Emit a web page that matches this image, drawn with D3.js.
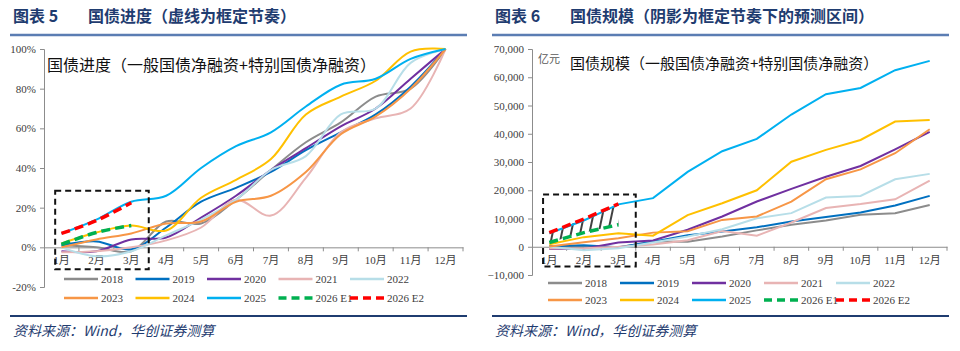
<!DOCTYPE html>
<html>
<head>
<meta charset="utf-8">
<script src="https://cdn.jsdelivr.net/npm/d3@7"></script>
<style>
body { margin: 0; background: #fff; }
svg text { font-family: "Liberation Serif", "Noto Sans CJK SC", serif; fill: #333; }
</style>
</head>
<body>
<script>
// categories
var months = ['1月','2月','3月','4月','5月','6月','7月','8月','9月','10月','11月','12月'];
var seriesNames = ['2018','2019','2020','2021','2022','2023','2024','2025','2026 E1','2026 E2'];
var seriesColors = ['#8c8c8c','#0070c0','#7030a0','#e8b4b4','#b7dee8','#f79646','#ffc000','#00b0f0','#00b050','#ff0000'];

// left: progress, %
var prog2018 = [1, 0, -2, 13, 12, 24, 39, 53, 63, 76, 80, 100];
var prog2019 = [1, 3, -1, 10, 23, 30, 38, 49, 58, 67, 81, 100];
var prog2020 = [-2, -2, 4, 5, 15, 26, 39, 50, 61, 70, 85, 100];
var prog2021 = [-2.5, -2, 0, 3.5, 10, 24, 16, 35, 58, 65, 70, 100];
var prog2022 = [0, -4.5, -2, 6, 14, 24, 39, 46, 67, 70, 93, 100];
var prog2023 = [0, 4, 7, 12, 13, 23, 26, 38, 57, 66, 80, 100];
var prog2024 = [2, 7.5, 11, 8.5, 25, 34, 44.5, 67, 76, 84, 98.7, 100];
var prog2025 = [7, 14, 23, 26, 40, 51, 58, 71, 82, 85, 95, 100];
var prog2026E1 = [1.5, 7.5, 11];
var prog2026E2 = [7, 13.5, 22.5];

// right: size, 亿元
var size2018 = [150, 0, -300, 1900, 1800, 3600, 5800, 7800, 9300, 11300, 11900, 14800];
var size2019 = [180, 540, -180, 1800, 4100, 5400, 6900, 8900, 10500, 12100, 14600, 18000];
var size2020 = [-800, -700, 1500, 2200, 6000, 10700, 16000, 20500, 24800, 28600, 34500, 40700];
var size2021 = [-600, -500, 0, 800, 2300, 5600, 3900, 8600, 13700, 15100, 16800, 23400];
var size2022 = [0, -1200, -500, 1500, 3600, 6200, 10100, 11900, 17400, 18000, 23900, 25800];
var size2023 = [100, 1600, 3000, 5000, 5500, 9500, 10700, 16000, 23900, 27400, 33100, 41600];
var size2024 = [900, 3400, 4800, 3900, 11200, 15400, 20000, 30100, 34300, 37800, 44300, 44900];
var size2025 = [4800, 9300, 15000, 17200, 26500, 33800, 38200, 46800, 54000, 56200, 62500, 65800];
var size2026E1 = [1500, 5000, 7800];
var size2026E2 = [5000, 9800, 15200];

var progTicks = [-20, 0, 20, 40, 60, 80, 100];
var sizeTicks = [-10000, 0, 10000, 20000, 30000, 40000, 50000, 60000, 70000];

var svg = d3.select('body').append('svg')
  .attr('width', 960)
  .attr('height', 351);

var defs = svg.append('defs');
defs.append('pattern')
  .attr('id', 'hatch')
  .attr('patternUnits', 'userSpaceOnUse')
  .attr('width', 9).attr('height', 9)
  .attr('patternTransform', 'rotate(12)')
  .append('line')
  .attr('x1', 4).attr('x2', 4).attr('y1', 0).attr('y2', 9)
  .attr('stroke', '#111').attr('stroke-width', 1.6);

function drawPanel(o) {
  var g = svg.append('g');

  // header
  var t = g.append('text')
    .attr('x', o.left).attr('y', 22)
    .style('font-family', '"Noto Sans CJK SC"')
    .style('font-weight', 'bold')
    .style('font-size', '16px')
    .style('fill', '#1f3c70');
  t.append('tspan').text(o.label);
  t.append('tspan').attr('x', o.left + 75).text(o.title);
  g.append('line')
    .attr('x1', o.left - 3).attr('x2', o.right)
    .attr('y1', 35).attr('y2', 35)
    .attr('stroke', '#5b7db3').attr('stroke-width', 2.5);

  var x = d3.scaleBand().domain(months).range([o.x0, o.x1]);
  var y = d3.scaleLinear().domain(o.domain).range([o.yBottom, o.yTop]);

  // y axis
  var yAxis = g.append('g')
    .attr('transform', 'translate(' + o.x0 + ',0)')
    .call(d3.axisLeft(y).tickValues(o.ticks).tickSize(4).tickPadding(4).tickFormat(o.fmt));
  yAxis.select('.domain').attr('stroke', '#8c8c8c');
  yAxis.selectAll('.tick line').attr('stroke', '#8c8c8c');
  yAxis.selectAll('text').style('font-size', '11px').style('font-family', '"Liberation Serif"').style('fill', '#404040');

  // x axis at zero
  var xAxis = g.append('g')
    .attr('transform', 'translate(0,' + y(0) + ')')
    .call(d3.axisBottom(x).tickSize(0).tickPadding(9));
  xAxis.select('.domain').attr('stroke', '#8c8c8c');
  xAxis.selectAll('text').style('font-size', '11px').style('fill', '#404040');
  xAxis.selectAll('.bound')
    .data(months)
    .enter().append('line')
    .attr('x1', function(d) { return x(d) + x.bandwidth(); })
    .attr('x2', function(d) { return x(d) + x.bandwidth(); })
    .attr('y1', 0).attr('y2', 4)
    .attr('stroke', '#8c8c8c');

  var cx = function(d, i) { return x(months[i]) + x.bandwidth() / 2; };
  var line = d3.line().x(cx).y(function(d) { return y(d); }).curve(o.curve);

  // shaded band between forecasts
  if (o.hatch) {
    g.append('path')
      .datum(o.series[8])
      .attr('fill', 'url(#hatch)')
      .attr('d', d3.area().x(cx)
        .y0(function(d) { return y(d); })
        .y1(function(d, i) { return y(o.series[9][i]); }));
  }

  o.series.forEach(function(s, k) {
    var dashed = k >= 8;
    g.append('path')
      .datum(s)
      .attr('fill', 'none')
      .attr('stroke', seriesColors[k])
      .attr('stroke-width', dashed ? 3.5 : 2)
      .attr('stroke-dasharray', dashed ? '9,5' : null)
      .attr('d', line);
  });

  // framed window
  g.append('rect')
    .attr('x', x(o.box[0]) + x.bandwidth() * 0.32)
    .attr('y', y(o.boxRange[1]))
    .attr('width', x(o.box[1]) + x.bandwidth() - x(o.box[0]) - x.bandwidth() * 0.32)
    .attr('height', y(o.boxRange[0]) - y(o.boxRange[1]))
    .attr('fill', 'none')
    .attr('stroke', '#111')
    .attr('stroke-width', 2)
    .attr('stroke-dasharray', '6,4');

  // inner title
  g.append('text')
    .attr('x', o.innerX).attr('y', o.innerY)
    .style('font-family', '"Noto Sans CJK SC"')
    .style('font-size', o.innerSize + 'px')
    .style('font-weight', 400)
    .style('fill', '#111')
    .text(o.inner);

  if (o.unit) {
    g.append('text')
      .attr('x', o.x0 + 6).attr('y', 63)
      .style('font-family', '"Noto Sans CJK SC"')
      .style('font-size', '11px')
      .style('fill', '#595959')
      .text(o.unit);
  }

  // legend
  var leg = g.selectAll('.leg')
    .data(seriesNames)
    .enter().append('g')
    .attr('transform', function(d, i) {
      return 'translate(' + (o.legX + (i % 5) * o.legStep) + ',' + o.legY[Math.floor(i / 5)] + ')';
    });
  leg.append('line')
    .attr('x1', 0).attr('x2', 34)
    .attr('stroke', function(d, i) { return seriesColors[i]; })
    .attr('stroke-width', function(d, i) { return i >= 8 ? 3.5 : 2.5; })
    .attr('stroke-dasharray', function(d, i) { return i >= 8 ? '8,5' : null; });
  leg.append('text')
    .attr('x', 37).attr('y', 4)
    .style('font-size', '11px')
    .style('fill', '#404040')
    .text(function(d) { return d; });

  // footer
  g.append('line')
    .attr('x1', o.left - 3).attr('x2', o.right)
    .attr('y1', 316).attr('y2', 316)
    .attr('stroke', '#1f3c70').attr('stroke-width', 2);
  g.append('text')
    .attr('x', o.left).attr('y', 336)
    .style('font-family', '"Noto Sans CJK SC"')
    .style('font-style', 'italic')
    .style('font-size', '14px')
    .style('fill', '#1f3c70')
    .text('资料来源：Wind，华创证券测算');
}

drawPanel({
  left: 13, right: 467,
  label: '图表 5', title: '国债进度（虚线为框定节奏）',
  x0: 44, x1: 463, yTop: 49, yBottom: 287,
  domain: [-20, 100], ticks: progTicks,
  fmt: function(d) { return d + '%'; },
  curve: d3.curveCatmullRom,
  series: [prog2018, prog2019, prog2020, prog2021, prog2022, prog2023, prog2024, prog2025, prog2026E1, prog2026E2],
  box: ['1月', '3月'], boxRange: [-11, 28.5],
  inner: '国债进度（一般国债净融资+特别国债净融资）', innerX: 47, innerY: 71, innerSize: 16,
  legX: 64, legStep: 71.5, legY: [279, 298]
});

drawPanel({
  left: 495, right: 949,
  label: '图表 6', title: '国债规模（阴影为框定节奏下的预测区间）',
  x0: 532, x1: 947, yTop: 49, yBottom: 275,
  domain: [-10000, 70000], ticks: sizeTicks,
  fmt: d3.format(','),
  curve: d3.curveLinear,
  hatch: true,
  series: [size2018, size2019, size2020, size2021, size2022, size2023, size2024, size2025, size2026E1, size2026E2],
  box: ['1月', '3月'], boxRange: [-7000, 18500],
  inner: '国债规模（一般国债净融资+特别国债净融资）', innerX: 570, innerY: 69, innerSize: 15,
  unit: '亿元',
  legX: 548, legStep: 72, legY: [283, 300]
});
</script>
</body>
</html>
